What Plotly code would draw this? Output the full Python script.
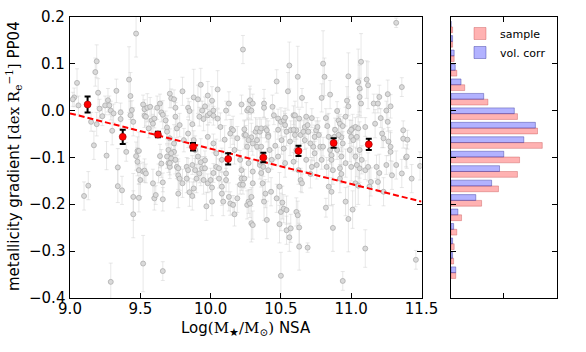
import plotly.graph_objects as go

# individual galaxies (grey points): stellar mass, gradient, error
gal_logm = [
    9.03, 9.05, 9.02, 9.06, 9.18, 9.19, 9.20, 9.21, 9.15, 9.19,
    9.23, 9.17, 9.26, 9.25, 9.27, 9.28, 9.29, 9.30, 9.31, 9.33,
    9.36, 9.36, 9.42, 9.43, 9.43, 9.44, 9.45, 9.47, 9.48, 9.49,
    9.52, 9.53, 9.53, 9.54, 9.55, 9.56, 9.57, 9.58, 9.59, 9.60,
    9.62, 9.64, 9.65, 9.66, 9.68, 9.69, 9.71, 9.72, 9.74, 9.75,
    9.75, 9.76, 9.78, 9.80, 9.84, 9.85, 9.87, 9.88, 9.91, 9.92,
    9.93, 9.94, 9.95, 9.96, 9.98, 9.98, 9.995, 10.01, 10.02, 10.02,
    10.05, 10.05, 10.07, 10.10, 10.11, 10.13, 10.15, 10.16, 10.22, 10.23,
    10.24, 10.24, 10.26, 10.27, 10.28, 10.29, 10.30, 10.33,
    10.28, 10.29, 10.30, 10.32, 10.33, 10.35, 10.36, 10.38, 10.38, 10.39,
    10.40, 10.41, 10.44, 10.45, 10.46, 10.47, 10.48, 10.50, 10.52, 10.53,
    10.53, 10.54, 10.55, 10.56, 10.57, 10.59, 10.60, 10.61, 10.62, 10.63,
    10.64, 10.65, 10.66, 10.67, 10.68, 10.69, 10.72, 10.73, 10.74, 10.75,
    10.76, 10.77, 10.79, 10.80, 10.81, 10.82, 10.83, 10.85, 10.86, 10.88,
    10.90, 10.91, 10.92, 10.93, 10.94, 10.96, 10.97, 10.98, 10.98, 10.99,
    11.00, 11.01, 11.03, 11.04, 11.05, 11.06, 11.06, 11.07, 11.07, 11.10,
    11.11, 11.12, 11.16, 11.17, 11.19, 11.20, 11.21, 11.22, 11.25, 11.26,
    11.26, 11.28, 11.28, 11.32, 11.36, 11.37, 11.37, 11.40,
    9.10, 9.13, 9.34, 9.34, 9.37, 9.40, 9.45, 9.45, 9.47, 9.48,
    9.49, 9.50, 9.49, 9.52, 9.29, 9.52, 9.53, 9.54, 9.59, 9.60,
    9.61, 9.63, 9.64, 9.65, 9.66, 9.66, 9.66, 9.69, 9.70, 9.71,
    9.72, 9.74, 9.76, 9.77, 9.78, 9.77, 9.80, 9.83, 9.83, 9.84,
    9.85, 9.87, 9.88, 9.89, 9.90, 9.92, 9.94, 9.95, 9.96, 9.96,
    9.97, 9.98, 10.00, 10.01, 10.01, 10.02, 10.04, 10.06, 10.08, 10.08,
    10.09, 10.11, 10.11, 10.13, 10.14, 10.16, 10.17, 10.19, 10.21, 10.22,
    10.23, 10.24, 10.26, 10.27, 10.28, 10.29, 10.29, 10.30, 10.30,
    10.30, 10.35, 10.36, 10.37, 10.38, 10.39, 10.40, 10.43, 10.47, 10.49,
    10.49, 10.50, 10.51, 10.52, 10.54, 10.50, 10.54, 10.56, 10.57, 10.61,
    10.62, 10.63, 10.63, 10.64, 10.65, 10.69, 10.71, 10.82, 10.84, 10.86,
    10.87, 10.92, 10.93, 10.96, 10.98, 11.01, 11.03, 11.05, 11.06, 10.94,
    11.10, 11.13, 11.14, 11.19, 11.20, 11.23, 11.29, 11.36, 11.39, 11.43,
    11.46, 11.49,
    9.69, 9.71, 9.74, 9.70, 9.72, 9.75, 9.71, 9.77, 9.84, 9.81,
    9.88, 9.89, 9.91, 9.87, 9.93, 9.98, 10.02, 10.04, 10.08, 10.06,
    10.14, 10.19, 10.17, 10.21, 10.22, 10.25, 10.27, 10.26, 10.27, 10.33,
    10.36, 10.35, 10.375, 10.41, 10.42, 10.435, 10.41, 10.48, 10.505, 10.52,
    10.48, 10.53, 10.59, 10.60, 10.565, 10.61, 10.59, 10.625, 10.695, 10.67,
    10.71, 10.68, 10.72, 10.78, 10.74, 10.79, 10.755, 10.84, 10.80, 10.85,
    10.86, 10.825, 10.87, 10.885, 10.90, 10.91, 10.94, 10.93, 10.96, 10.92,
    11.00, 11.015, 10.99, 11.03, 11.00, 11.05, 11.06, 11.075, 11.04, 11.10,
    11.12, 11.18, 11.23, 11.265, 11.28, 11.25, 11.32, 11.395,
]
gal_grad = [
    0.028, 0.059, 0.024, 0.011, 0.082, 0.105, 0.038, 0.004, -0.024, -0.029,
    -0.012, -0.074, -0.096, 0.011, 0.022, 0.011, 0.000, -0.043, -0.006, 0.042,
    -0.004, -0.018, 0.066, 0.031, -0.010, 0.001, -0.024, 0.164, -0.086, -0.086,
    0.013, 0.003, -0.011, -0.013, 0.006, -0.038, 0.008, -0.021, -0.028, -0.017,
    0.006, 0.015, -0.004, -0.009, -0.021, -0.036, 0.036, 0.026, 0.024, 0.006,
    -0.013, -0.038, -0.031, 0.041, 0.006, -0.001, -0.029, 0.028, 0.024, -0.013,
    0.055, 0.000, -0.018, 0.009, 0.032, -0.010, -0.006, 0.021, 0.000, -0.011,
    0.045, -0.017, -0.035, -0.062, 0.000, 0.015, -0.039, -0.042, 0.013, 0.130,
    -0.040, -0.052, 0.000, 0.004, 0.021, -0.057, -0.070, -0.077,
    0.022, 0.000, 0.015, -0.045, -0.038, -0.045, -0.038, 0.015, 0.006, -0.038,
    -0.042, -0.052, 0.008, -0.010, -0.075, 0.062, -0.017, -0.024, -0.021, -0.015,
    -0.031, -0.045, 0.041, 0.096, -0.042, -0.010, -0.010, -0.042, 0.072, -0.017,
    -0.052, 0.027, -0.045, -0.035, -0.013, -0.031, -0.016, -0.077, -0.056, -0.042,
    -0.035, -0.052, 0.027, 0.100, 0.072, -0.016, -0.033, 0.034, -0.095, -0.056,
    -0.001, -0.021, -0.028, -0.057, -0.033, -0.013, 0.021, 0.009, 0.073, -0.045,
    -0.056, -0.038, -0.035, -0.056, 0.061, 0.047, 0.029, 0.104, 0.015, -0.035,
    0.066, 0.054, 0.015, -0.028, 0.015, 0.029, -0.016, -0.049, 0.000, 0.035,
    -0.024, -0.077, 0.009, 0.187, 0.050, -0.042, -0.060, -0.062,
    -0.182, -0.160, -0.121, -0.161, -0.170, -0.088, -0.184, -0.221, -0.097, -0.109,
    -0.127, -0.148, -0.186, -0.326, -0.365, -0.130, -0.128, -0.134, -0.155, -0.187,
    -0.180, -0.134, -0.097, -0.113, -0.153, -0.189, -0.342, -0.098, -0.112, -0.120,
    -0.102, -0.088, -0.120, -0.138, -0.145, -0.177, -0.155, -0.120, -0.145, -0.127,
    -0.174, -0.182, -0.166, -0.127, -0.145, -0.134, -0.123, -0.148, -0.106, -0.123,
    -0.204, -0.155, -0.148, -0.164, -0.194, -0.133, -0.120, -0.145, -0.162, -0.177,
    -0.194, -0.148, -0.134, -0.184, -0.198, -0.201, -0.221, -0.187, -0.158, -0.145,
    -0.158, -0.145, -0.201, -0.194, -0.198, -0.240, -0.184, -0.244, -0.130,
    -0.155, -0.116, -0.133, -0.155, -0.194, -0.177, -0.233, -0.173, -0.187, -0.162,
    -0.242, -0.216, -0.196, -0.209, -0.212, -0.352, -0.255, -0.270, -0.251, -0.216,
    -0.223, -0.249, -0.290, -0.148, -0.155, -0.292, -0.135, -0.207, -0.162, -0.173,
    -0.250, -0.145, -0.135, -0.194, -0.231, -0.211, -0.155, -0.160, -0.123, -0.363,
    -0.294, -0.162, -0.152, -0.152, -0.133, -0.173, -0.138, -0.134, -0.100, -0.145,
    -0.318, -0.118,
    -0.045, -0.059, -0.070, -0.084, -0.091, -0.105, -0.112, -0.123, -0.049, -0.063,
    -0.063, -0.084, -0.098, -0.116, -0.110, -0.056, -0.070, -0.091, -0.105, -0.123,
    -0.049, -0.059, -0.084, -0.105, -0.127, -0.052, -0.063, -0.077, -0.112, -0.063,
    -0.077, -0.109, -0.120, -0.056, -0.084, -0.105, -0.127, -0.041, -0.063, -0.081,
    -0.098, -0.112, -0.041, -0.052, -0.066, -0.084, -0.109, -0.127, -0.045, -0.063,
    -0.070, -0.105, -0.120, -0.077, -0.091, -0.105, -0.116, -0.056, -0.077, -0.084,
    -0.105, -0.120, -0.127, -0.041, -0.084, -0.052, -0.070, -0.098, -0.112, -0.123,
    -0.041, -0.063, -0.084, -0.098, -0.120, -0.038, -0.084, -0.105, -0.116, -0.127,
    -0.120, -0.120, -0.059, -0.066, -0.088, -0.116, -0.116, -0.098,
]
gal_err = [
    0.02, 0.03, 0.015, 0.02, 0.03, 0.035, 0.03, 0.02, 0.02, 0.025,
    0.02, 0.03, 0.03, 0.02, 0.025, 0.02, 0.02, 0.03, 0.02, 0.025,
    0.02, 0.02, 0.07, 0.05, 0.03, 0.02, 0.03, 0.05, 0.03, 0.04,
    0.02, 0.02, 0.025, 0.02, 0.03, 0.02, 0.02, 0.03, 0.02, 0.02,
    0.025, 0.02, 0.02, 0.03, 0.02, 0.025, 0.03, 0.02, 0.02, 0.02,
    0.03, 0.02, 0.025, 0.03, 0.02, 0.02, 0.03, 0.06, 0.03, 0.02,
    0.035, 0.02, 0.025, 0.02, 0.03, 0.02, 0.02, 0.03, 0.02, 0.02,
    0.04, 0.02, 0.03, 0.03, 0.02, 0.025, 0.02, 0.03, 0.02, 0.03,
    0.02, 0.03, 0.02, 0.02, 0.025, 0.03, 0.025, 0.03,
    0.03, 0.02, 0.02, 0.03, 0.02, 0.03, 0.02, 0.03, 0.02, 0.02,
    0.025, 0.03, 0.025, 0.02, 0.03, 0.025, 0.02, 0.03, 0.02, 0.02,
    0.025, 0.03, 0.04, 0.05, 0.02, 0.02, 0.03, 0.02, 0.065, 0.02,
    0.03, 0.02, 0.025, 0.02, 0.03, 0.02, 0.02, 0.03, 0.025, 0.02,
    0.02, 0.03, 0.03, 0.07, 0.04, 0.02, 0.025, 0.03, 0.03, 0.02,
    0.02, 0.025, 0.02, 0.03, 0.02, 0.02, 0.03, 0.02, 0.05, 0.025,
    0.02, 0.03, 0.02, 0.025, 0.07, 0.05, 0.04, 0.06, 0.03, 0.02,
    0.04, 0.05, 0.02, 0.03, 0.02, 0.025, 0.02, 0.03, 0.02, 0.03,
    0.02, 0.03, 0.025, 0.01, 0.02, 0.02, 0.02, 0.02,
    0.03, 0.03, 0.04, 0.035, 0.03, 0.02, 0.05, 0.05, 0.03, 0.03,
    0.03, 0.035, 0.03, 0.06, 0.04, 0.02, 0.025, 0.02, 0.03, 0.025,
    0.02, 0.02, 0.025, 0.03, 0.02, 0.025, 0.02, 0.025, 0.02, 0.025,
    0.02, 0.02, 0.025, 0.03, 0.025, 0.03, 0.03, 0.02, 0.03, 0.025,
    0.03, 0.03, 0.02, 0.025, 0.03, 0.02, 0.025, 0.03, 0.02, 0.025,
    0.03, 0.02, 0.025, 0.03, 0.03, 0.02, 0.025, 0.02, 0.03, 0.025,
    0.03, 0.025, 0.02, 0.03, 0.025, 0.02, 0.025, 0.03, 0.02, 0.025,
    0.02, 0.02, 0.03, 0.025, 0.03, 0.04, 0.02, 0.03, 0.025,
    0.03, 0.03, 0.03, 0.035, 0.04, 0.03, 0.04, 0.03, 0.03, 0.03,
    0.04, 0.04, 0.035, 0.03, 0.03, 0.05, 0.03, 0.03, 0.03, 0.03,
    0.03, 0.035, 0.05, 0.025, 0.02, 0.01, 0.03, 0.02, 0.04, 0.03,
    0.05, 0.03, 0.02, 0.03, 0.07, 0.04, 0.05, 0.04, 0.03, 0.02,
    0.04, 0.04, 0.03, 0.02, 0.04, 0.03, 0.03, 0.03, 0.02, 0.03,
    0.02, 0.03,
    0.025, 0.02, 0.04, 0.025, 0.02, 0.03, 0.025, 0.02, 0.03, 0.025,
    0.02, 0.03, 0.025, 0.02, 0.05, 0.025, 0.02, 0.03, 0.025, 0.02,
    0.03, 0.025, 0.03, 0.02, 0.025, 0.02, 0.045, 0.025, 0.03, 0.02,
    0.03, 0.025, 0.02, 0.025, 0.03, 0.02, 0.025, 0.02, 0.03, 0.025,
    0.02, 0.03, 0.025, 0.04, 0.03, 0.025, 0.02, 0.03, 0.025, 0.02,
    0.03, 0.025, 0.02, 0.03, 0.025, 0.02, 0.03, 0.05, 0.02, 0.03,
    0.025, 0.02, 0.03, 0.025, 0.02, 0.04, 0.025, 0.02, 0.03, 0.025,
    0.02, 0.03, 0.025, 0.02, 0.03, 0.025, 0.06, 0.03, 0.025, 0.02,
    0.03, 0.025, 0.02, 0.03, 0.045, 0.02, 0.03, 0.025,
]
assert len(gal_logm) == len(gal_grad) == len(gal_err)

# binned values (red points)
bin_logm = [9.125, 9.375, 9.625, 9.875, 10.125, 10.375, 10.625, 10.875, 11.125]
bin_grad = [0.013, -0.056, -0.051, -0.077, -0.103, -0.100, -0.086, -0.069, -0.072]
bin_err = [0.017, 0.015, 0.006, 0.008, 0.012, 0.010, 0.011, 0.010, 0.012]

# linear fit (red dashed)
fit_intercept = 0.6708
fit_slope = -0.0752
fit_logm = [9.0, 11.5]

# side histogram of gradients, bottom bin first
hist_lo = -0.3608
hist_width = 0.0308
hist_sample = [0.09, 0.05, 0.06, 0.11, 0.20, 0.58, 0.90, 1.26, 1.30,
               1.73, 1.64, 1.26, 0.70, 0.26, 0.11, 0.06, 0.03, 0.03]
hist_volcorr = [0.09, 0.03, 0.03, 0.05, 0.13, 0.47, 0.77, 0.92, 1.00,
                1.38, 1.60, 1.20, 0.62, 0.19, 0.08, 0.06, 0.03, 0.0]
hist_centers = [hist_lo + (i + 0.5) * hist_width for i in range(len(hist_sample))]

x_ticks = [9.0, 9.5, 10.0, 10.5, 11.0, 11.5]
y_ticks = [-0.4, -0.3, -0.2, -0.1, 0.0, 0.1, 0.2]


def fmt(v):
    return ("%.1f" % v).replace("-", "\u2212")


W, H = 586, 352


def fx(px):
    return px / W


def fy(py):
    return 1 - py / H


font = "DejaVu Sans"
serif = "DejaVu Serif"

fig = go.Figure()

fig.add_trace(go.Scatter(
    x=gal_logm, y=gal_grad, mode="markers",
    marker=dict(size=5, color="#dadada", line=dict(color="#a6a6a6", width=0.7)),
    error_y=dict(type="data", array=gal_err, color="rgba(205,205,205,0.45)",
                 thickness=1, width=2),
    showlegend=False, hoverinfo="skip",
))

fig.add_trace(go.Scatter(
    x=fit_logm, y=[fit_intercept + fit_slope * m for m in fit_logm],
    mode="lines", line=dict(color="red", width=2, dash="6px,3px"),
    showlegend=False,
))

fig.add_trace(go.Scatter(
    x=bin_logm, y=bin_grad, mode="markers",
    marker=dict(size=7, color="red", line=dict(color="#900000", width=0.6)),
    error_y=dict(type="data", array=bin_err, color="black", thickness=2, width=3),
    showlegend=False,
))

fig.add_trace(go.Bar(
    y=hist_centers, x=hist_sample, orientation="h", name="sample",
    marker=dict(color="rgba(255,0,0,0.3)", line=dict(color="rgba(190,60,60,0.35)", width=1)),
    xaxis="x2", yaxis="y2",
))
fig.add_trace(go.Bar(
    y=hist_centers, x=hist_volcorr, orientation="h", name="vol. corr",
    marker=dict(color="rgba(0,0,255,0.3)", line=dict(color="rgba(40,40,150,0.4)", width=1)),
    xaxis="x2", yaxis="y2",
))

ydom = [fy(298.3), fy(16.7)]
axis_common = dict(
    showline=True, linecolor="black", linewidth=1, mirror="ticks",
    ticks="inside", ticklen=5, tickcolor="black",
    showgrid=False, zeroline=False, automargin=False,
    ticklabeloverflow="allow",
    tickfont=dict(family=font, size=15, color="black"),
)

# y tick labels sit close to the axis, as in the original
y_labels = [
    dict(text=fmt(v), x=fx(66.5), y=v, xref="paper", yref="y",
         xanchor="right", yanchor="middle", showarrow=False,
         font=dict(family=font, size=15, color="black"))
    for v in y_ticks
]

fig.update_layout(
    width=W, height=H,
    margin=dict(l=0, r=0, t=0, b=0, autoexpand=False),
    paper_bgcolor="white", plot_bgcolor="white",
    font=dict(family=font, color="black"),
    barmode="group", bargap=0.2, bargroupgap=0,
    xaxis=dict(domain=[fx(70), fx(421.5)], range=[9.0, 11.5],
               tickvals=x_ticks, ticktext=[fmt(v) for v in x_ticks],
               ticklabelstandoff=-3, **axis_common),
    yaxis=dict(domain=ydom, range=[-0.4, 0.2], tickvals=y_ticks,
               showticklabels=False, **axis_common),
    xaxis2=dict(domain=[fx(451), fx(556.5)], anchor="y2", range=[0, 2],
                tickvals=[0, 1, 2], showticklabels=False, **axis_common),
    yaxis2=dict(domain=ydom, anchor="x2", range=[-0.4, 0.2], tickvals=y_ticks,
                showticklabels=False, **axis_common),
    legend=dict(x=fx(460), y=fy(19), xanchor="left", yanchor="top",
                bgcolor="rgba(0,0,0,0)", font=dict(family=font, size=11),
                traceorder="normal"),
    annotations=y_labels + [
        dict(text="Log<span style='font-family:" + serif + "'>(M<sub>★</sub>/M<sub>⊙</sub>)</span> NSA",
             x=fx(246), y=fy(328), xref="paper", yref="paper",
             xanchor="center", yanchor="middle",
             showarrow=False, font=dict(size=15)),
        dict(text="metallicity gradient <span style='font-family:" + serif
             + "'>[dex R<sub>e</sub><sup>−1</sup>]</span> PP04",
             x=fx(14), y=fy(156), xref="paper", yref="paper",
             xanchor="center", yanchor="middle",
             textangle=-90, showarrow=False, font=dict(size=15)),
    ],
)

# drop the default 8px page margin so the figure fills the window exactly
fig.write_html("out.html", config={"displayModeBar": False},
               post_script="document.body.style.margin = '0';")
